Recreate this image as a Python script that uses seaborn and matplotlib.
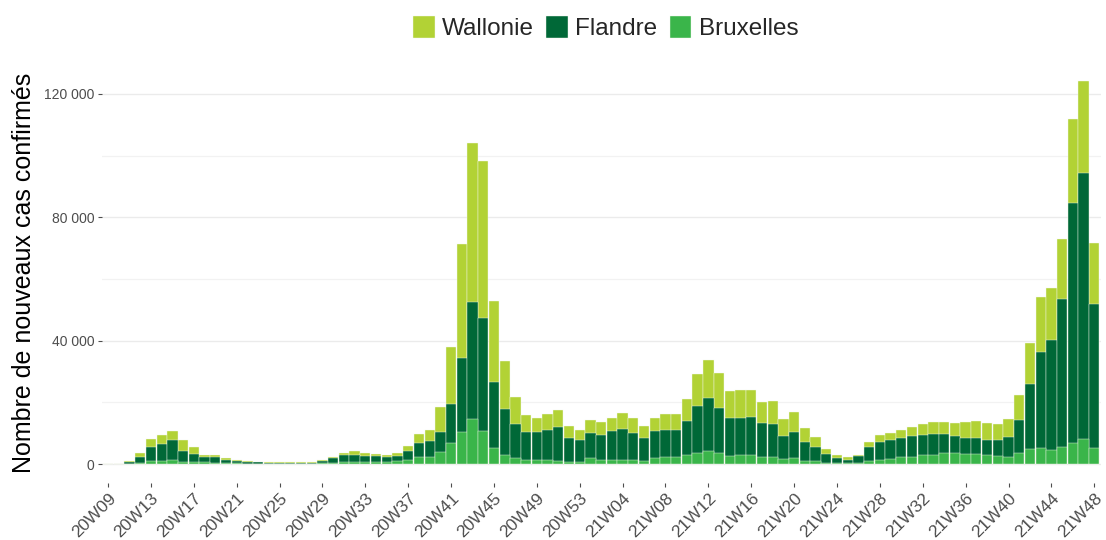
import pandas as pd
import matplotlib.pyplot as plt
import matplotlib.ticker as ticker
import seaborn as sns

# semaines 20W09 -> 21W48
weeks = [f"20W{w:02d}" for w in range(9, 54)] + [f"21W{w:02d}" for w in range(1, 49)]

bruxelles = [10, 40, 100, 430, 1100, 1100, 1300, 750, 650, 540,
             430, 320, 250, 200, 150, 150, 120, 120, 120, 130,
             250, 430, 650, 650, 540, 650, 750, 860, 1300, 2200,
             2400, 4000, 6900, 10500, 14500, 10700, 5300, 2900, 2000, 1500,
             1300, 1300, 1100, 700, 700, 1900, 1500, 1500, 1500, 1500,
             1100, 1900, 2300, 2200, 2900, 3700, 4300, 3500, 2700, 2900,
             2900, 2300, 2300, 1700, 1900, 1100, 900, 500, 300, 300,
             400, 1000, 1500, 1800, 2200, 2400, 2800, 3000, 3500, 3500,
             3200, 3200, 2800, 2600, 2400, 3500, 4800, 5100, 4500, 5400,
             6900, 8300, 5300]

flandre = [10, 90, 440, 1970, 4500, 5300, 6400, 3650, 2700, 1760,
           1770, 1180, 850, 550, 390, 370, 310, 310, 310, 350,
           650, 1420, 2150, 2450, 2060, 1850, 1650, 1740, 2800, 4700,
           5000, 6500, 12500, 23800, 38100, 36800, 21200, 15100, 11000, 8800,
           9000, 9900, 10900, 7900, 7100, 8300, 8100, 9200, 9850, 8500,
           7500, 8700, 8900, 8800, 11100, 15300, 17200, 14700, 12400, 12200,
           12400, 10900, 10700, 7400, 8600, 6100, 4700, 2700, 1650, 1200,
           2100, 4700, 5800, 6100, 6300, 6700, 6600, 6700, 6200, 5700,
           5400, 5400, 5100, 5200, 6500, 10800, 21100, 31100, 35700, 48000,
           77800, 86000, 46600]

wallonie = [10, 70, 560, 1100, 2400, 3000, 3200, 3300, 2050, 700,
            700, 350, 200, 220, 110, 130, 120, 120, 120, 120,
            400, 350, 700, 1100, 900, 850, 600, 900, 1800, 2800,
            3600, 8000, 18600, 37000, 51400, 50800, 26500, 15500, 8800, 5500,
            4800, 5200, 5400, 3700, 3400, 4200, 3900, 4200, 5150, 4900,
            3800, 4500, 5200, 5100, 7000, 10100, 12100, 11200, 8700, 8900,
            8700, 7100, 7500, 5400, 6500, 4600, 3300, 1800, 850, 800,
            300, 1500, 2000, 2200, 2600, 2800, 3500, 3800, 3900, 4200,
            4900, 5500, 5500, 5100, 5600, 8100, 13400, 18100, 16900, 19500,
            27200, 30000, 19700]

colors = {'Wallonie': '#b2d235', 'Flandre': '#006837', 'Bruxelles': '#3ab54a'}

df = pd.DataFrame({'semaine': weeks, 'Bruxelles': bruxelles,
                   'Flandre': flandre, 'Wallonie': wallonie})
# cumuls pour empiler les barres
df['cum_bru'] = df['Bruxelles']
df['cum_fla'] = df['cum_bru'] + df['Flandre']
df['cum_wal'] = df['cum_fla'] + df['Wallonie']

sns.set_style('white')
plt.rcParams['font.family'] = ['Liberation Sans', 'DejaVu Sans']

fig = plt.figure(figsize=(11.06, 5.4), dpi=100)
ax = fig.add_axes([0.0919, 0.105, 0.9033, 0.781])

for col, region in [('cum_wal', 'Wallonie'), ('cum_fla', 'Flandre'), ('cum_bru', 'Bruxelles')]:
    sns.barplot(data=df, x='semaine', y=col, color=colors[region], saturation=1,
                width=0.96, edgecolor='#f4f8ec', linewidth=0.3, label=region,
                order=weeks, ax=ax, zorder=2)

ax.set_xlim(-0.6, len(weeks) - 0.4)
ax.set_ylim(-6215, 130515)
ax.yaxis.set_major_locator(ticker.FixedLocator([0, 40000, 80000, 120000]))
ax.yaxis.set_minor_locator(ticker.FixedLocator([20000, 60000, 100000]))
ax.yaxis.set_major_formatter(ticker.FuncFormatter(lambda v, p: f'{v:,.0f}'.replace(',', ' ')))
ax.grid(axis='y', which='major', color='#ebebeb', linewidth=1.0, zorder=0)
ax.grid(axis='y', which='minor', color='#f2f2f2', linewidth=0.9, zorder=0)
ax.grid(axis='x', visible=False)
ax.set_axisbelow(True)

tick_pos = list(range(0, len(weeks), 4))
ax.set_xticks(tick_pos)
ax.set_xticklabels([weeks[i] for i in tick_pos], rotation=45, ha='right',
                   rotation_mode='anchor', fontsize=12.5, color='#4d4d4d')
ax.tick_params(axis='x', length=3, width=0.8, color='#4d4d4d', pad=2, bottom=True)
ax.tick_params(axis='y', which='major', length=3, width=0.8, color='#4d4d4d',
               labelsize=10, labelcolor='#4d4d4d', left=True, pad=2)
ax.tick_params(axis='y', which='minor', length=0)

ax.set_xlabel('')
ax.set_ylabel('Nombre de nouveaux cas confirmés', fontsize=18, color='black', labelpad=6)
sns.despine(ax=ax, left=True, bottom=True)

handles, labels = ax.get_legend_handles_labels()
if ax.get_legend() is not None:
    ax.get_legend().remove()
fig.legend(handles, labels, loc='center', bbox_to_anchor=(0.5475, 0.948), ncol=3,
           frameon=False, fontsize=17.5, handlelength=0.9, handleheight=1.0,
           handletextpad=0.3, columnspacing=0.5)

plt.savefig('out.png', dpi=100)
